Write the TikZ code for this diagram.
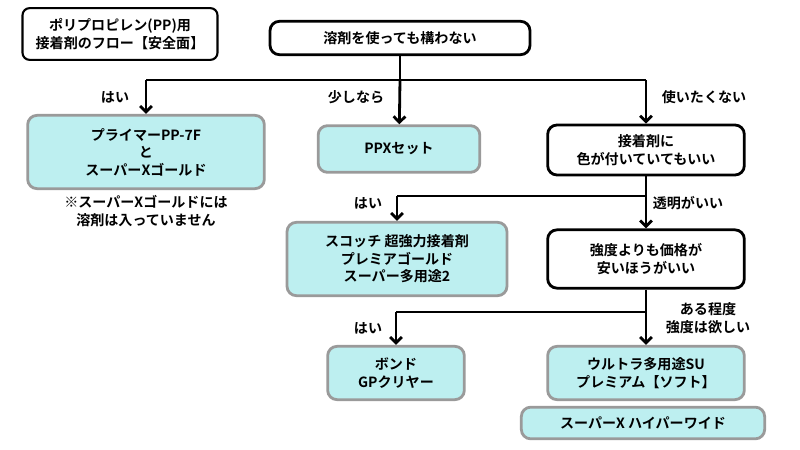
\documentclass[tikz,border=0pt]{standalone}
\usepackage{fontspec}
\setmainfont{Noto Sans CJK JP}[BoldFont={Noto Sans CJK JP Bold}]
\usetikzlibrary{arrows.meta}
\definecolor{boxcyan}{HTML}{BDEFF0}
\definecolor{boxgray}{HTML}{9A9A9A}
\begin{document}
\begin{tikzpicture}[x=0.03cm,y=-0.03cm,
  every node/.style={font=\bfseries\fontsize{12pt}{15pt}\selectfont,align=center},
  ask/.style={draw=black,line width=2.4pt,rounded corners=8pt,fill=white,inner sep=2pt},
  ans/.style={draw=boxgray,line width=2.4pt,rounded corners=8pt,fill=boxcyan,inner sep=2pt},
  line/.style={line width=2.4pt},
  arr/.style={line width=2.4pt,-{Straight Barb[length=5pt,width=10pt]}}]
\useasboundingbox (0,0) rectangle (800,450);

\node[draw=black,line width=1.8pt,rounded corners=6pt,minimum width=5.85cm,minimum height=1.55cm,inner sep=1pt] (title) at (120,34)
  {ポリプロピレン(PP)用\\接着剤のフロー【安全面】};
\node[ask,minimum width=7.8cm,minimum height=1cm] (q1) at (400,38) {溶剤を使っても構わない};

\node[ans,minimum width=7.1cm,minimum height=2.2cm] (a1) at (146,152) {プライマーPP-7F\\と\\スーパーXゴールド};
\node (note) at (146,211) {※スーパーXゴールドには\\溶剤は入っていません};
\node[ans,minimum width=4.85cm,minimum height=1.4cm] (a2) at (399,149) {PPXセット};
\node[ask,minimum width=5.9cm,minimum height=1.5cm] (q2) at (646,150) {接着剤に\\色が付いていてもいい};

\node[ans,minimum width=6.6cm,minimum height=2.2cm] (a3) at (397,259) {スコッチ 超強力接着剤\\プレミアゴールド\\スーパー多用途2};
\node[ask,minimum width=5.9cm,minimum height=1.75cm] (q3) at (646,259) {強度よりも価格が\\安いほうがいい};

\node[ans,minimum width=4.1cm,minimum height=1.6cm] (a4) at (396,373) {ボンド\\GPクリヤー};
\node[ans,minimum width=5.9cm,minimum height=1.6cm] (a5) at (646,373) {ウルトラ多用途SU\\プレミアム【ソフト】};
\node[ans,minimum width=7.3cm,minimum height=0.95cm] (a6) at (643,423) {スーパーX ハイパーワイド};

% branches
\coordinate (j1) at (400,80);
\coordinate (j1l) at (146,80);
\coordinate (j1r) at (646,80);
\draw[line] (q1) -- (j1);
\draw[line] (j1l) -- (j1r);
\draw[arr] (j1l) -- (a1);
\draw[arr] (j1) -- (a2);
\draw[arr] (j1r) -- (q2);
\node at (115,97) {はい};
\node at (356,97) {少しなら};
\node at (704,97) {使いたくない};

\coordinate (j2) at (646,196);
\coordinate (j2l) at (397,196);
\draw[line] (q2) -- (j2) -- (j2l);
\draw[arr] (j2l) -- (a3);
\draw[arr] (j2) -- (q3);
\node at (368,203) {はい};
\node at (688,203) {透明がいい};

\coordinate (j3) at (646,312);
\coordinate (j3l) at (396,312);
\draw[line] (q3) -- (j3) -- (j3l);
\draw[arr] (j3l) -- (a4);
\draw[arr] (j3) -- (a5);
\node at (368,328) {はい};
\node at (708,318) {ある程度\\強度は欲しい};
\end{tikzpicture}
\end{document}
